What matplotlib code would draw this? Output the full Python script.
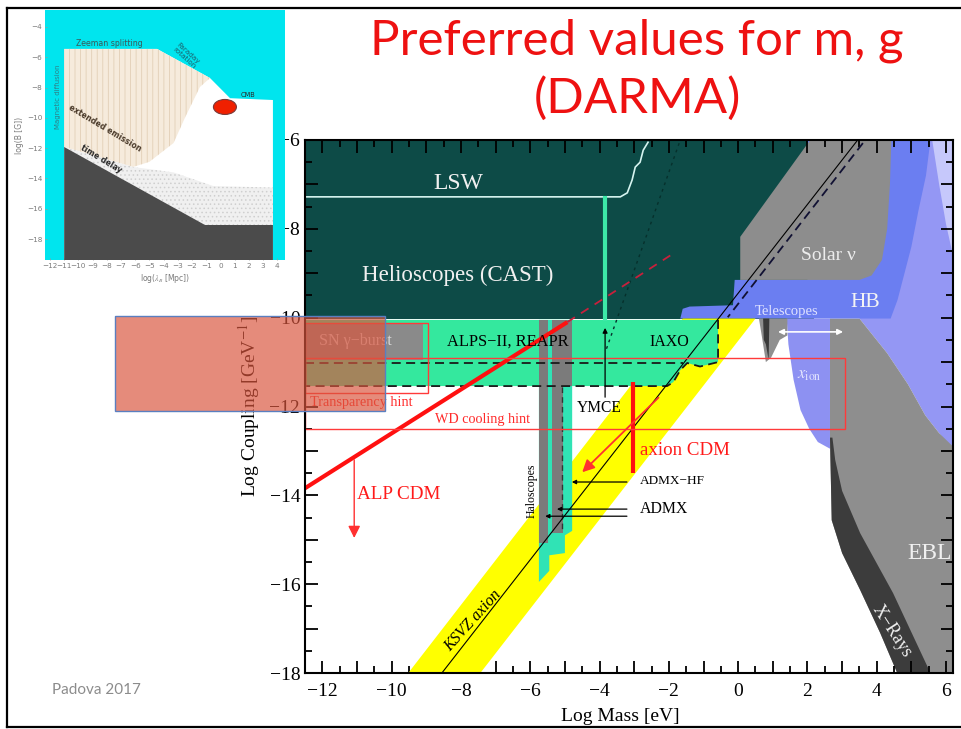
import matplotlib
matplotlib.use("Agg")
import matplotlib.pyplot as plt
from matplotlib.patches import Polygon, Rectangle, Ellipse
from matplotlib.lines import Line2D

plt.rcParams['mathtext.fontset'] = 'stix'
SERIF = ['Liberation Serif', 'DejaVu Serif']
SANS = ['Lato', 'DejaVu Sans']

# ---------------- main plot: log10(m / eV) vs log10(g / GeV^-1) ----------------
XLIM = (-12.5, 6.2)
YLIM = (-18.0, -6.0)
X_MAJOR = list(range(-12, 7))
X_LABELED = [-12, -10, -8, -6, -4, -2, 0, 2, 4, 6]
Y_MAJOR = list(range(-18, -5))
Y_LABELED = [-18, -16, -14, -12, -10, -8, -6]

# exclusion / sensitivity regions (vertices in data units)
helio_lsw = [(-12.5, -10.02), (2.2, -10.02), (2.2, -6.0), (-12.5, -6.0)]
alps_iaxo = [(-12.5, -10.05), (-0.58, -10.05), (-0.58, -11.0), (-1.1, -11.1), (-1.47, -11.02),
             (-1.67, -11.18), (-1.87, -11.45), (-2.05, -11.54), (-12.5, -11.54)]
iaxo_edge = [(-0.58, -10.05), (-0.58, -11.0), (-1.1, -11.1), (-1.47, -11.02), (-1.67, -11.18),
             (-1.87, -11.45), (-2.05, -11.54), (-12.5, -11.54)]
alps_edge_x = [-12.5, -1.6]
alps_edge_y = [-11.02, -11.02]
sn_burst = [(-12.5, -10.12), (-9.09, -10.12), (-9.09, -10.95), (-12.5, -10.95)]
ksvz_band = [(-9.52, -18.0), (-7.44, -18.0), (0.5, -10.02), (-1.6, -10.02)]
halo_green = [(-5.75, -10.05), (-4.79, -10.05), (-4.79, -14.8), (-5.0, -14.9), (-5.0, -15.3),
              (-5.45, -15.35), (-5.45, -15.7), (-5.75, -15.95)]
halo_gray_a = [(-5.75, -10.05), (-5.48, -10.05), (-5.48, -15.08), (-5.75, -15.08)]
halo_gray_b = [(-5.36, -10.05), (-4.8, -10.05), (-4.8, -11.54), (-5.05, -11.54),
               (-5.05, -14.85), (-5.36, -14.85)]
lavender_bg = [(3.4, -6.0), (6.2, -6.0), (6.2, -13.0), (5.8, -12.6), (5.4, -12.2),
               (4.9, -11.5), (4.3, -10.8), (3.5, -10.02)]
lavender_light = [(5.6, -6.0), (6.2, -6.0), (6.2, -8.6), (6.0, -7.9), (5.8, -7.0)]
hb_blue = [(-1.67, -10.02), (-1.6, -9.8), (-1.4, -9.75), (-0.15, -9.72), (-0.1, -9.15),
           (2.0, -9.15), (2.0, -6.0), (5.55, -6.0), (5.42, -6.8), (5.2, -7.6), (5.0, -8.4),
           (4.8, -9.0), (4.6, -9.6), (4.4, -10.02)]
solar_nu = [(0.06, -9.15), (0.06, -8.18), (2.08, -6.0), (4.42, -6.0), (4.38, -7.0),
            (4.3, -8.0), (4.15, -8.7), (3.85, -9.05), (3.5, -9.15)]
xion_blob = [(1.4, -10.02), (2.65, -10.02), (2.65, -12.95), (2.3, -12.8), (2.05, -12.5),
             (1.8, -12.08), (1.6, -11.4), (1.45, -10.6)]
telescopes = [(0.6, -10.02), (1.42, -10.02), (1.42, -10.4), (1.2, -10.5), (0.95, -10.9),
              (0.8, -11.0), (0.7, -10.5)]
telescopes_dark = [(0.72, -10.02), (0.9, -10.02), (0.88, -10.95), (0.8, -10.6), (0.74, -10.5)]
ebl = [(2.65, -10.02), (3.5, -10.02), (4.3, -10.8), (4.9, -11.5), (5.4, -12.2), (5.8, -12.6),
       (6.2, -12.9), (6.2, -18.0), (4.59, -18.0), (4.1, -17.1), (3.52, -16.13), (3.0, -15.3),
       (2.7, -14.56), (2.65, -12.7)]
xrays = [(2.65, -12.7), (2.7, -14.56), (3.0, -15.3), (3.52, -16.13), (4.1, -17.1), (4.59, -18.0),
         (5.55, -18.0), (4.47, -16.2), (3.52, -14.85), (3.0, -13.9), (2.8, -13.2), (2.72, -12.7)]

# lines
lsw_x = [-12.5, -3.4, -3.2, -3.06, -2.97, -2.83, -2.74, -2.6]
lsw_y = [-7.28, -7.28, -7.19, -6.9, -6.61, -6.5, -6.23, -6.05]
lsw_green_x = [-3.84, -3.84]
lsw_green_y = [-7.3, -10.02]
cast_dotted_x = [-3.8, -1.67]
cast_dotted_y = [-10.7, -6.0]
ksvz_x = [-8.55, 3.45]
ksvz_y = [-18.0, -6.0]
dfsz_dash_x = [3.6, -0.3]
dfsz_dash_y = [-6.07, -9.99]
alp_cdm_x = [-12.5, -4.93]
alp_cdm_y = [-13.84, -10.1]
alp_cdm_dash_x = [-4.93, -1.96]
alp_cdm_dash_y = [-10.1, -8.6]
axion_cdm_x = [-3.03, -3.03]
axion_cdm_y = [-11.45, -13.5]
halo_dash_x = [-5.08, -5.08]
halo_dash_y = [-11.56, -14.8]

# hint boxes: (x0, y0, x1, y1)
transparency_box = (-12.5, -11.7, -8.95, -10.12)
wd_box = (-12.5, -12.51, 3.08, -10.91)

# annotation arrows: (x_from, y_from, x_to, y_to)
ymce_arrow = (-3.84, -11.79, -3.84, -10.23)
alp_arrow = (-11.08, -13.2, -11.08, -14.96)
axion_arrow = (-2.3, -11.8, -4.5, -13.48)
admx_hf_arrow = (-3.21, -13.7, -4.8, -13.7)
admx_arrow_1 = (-3.21, -14.31, -5.23, -14.31)
admx_arrow_2 = (-3.21, -14.47, -5.57, -14.47)
tele_arrow = (3.03, -10.32, 1.15, -10.32)

# ---------------- inset: log10(B/G) vs log10(lambda_B / Mpc) ----------------
IN_XLIM = (-12.35, 4.55)
IN_YLIM = (-19.38, -2.88)
in_xticks = list(range(-12, 5))
in_yticks = [-4, -6, -8, -10, -12, -14, -16, -18]
in_white = [(-11, -5.45), (-4.46, -5.45), (-0.73, -7.37), (0.68, -8.7), (3.7, -8.82),
            (3.7, -19.4), (-11, -19.4)]
in_beige = [(-11, -5.45), (-4.46, -5.45), (-0.73, -7.37), (-1.44, -7.96), (-2.5, -10.0),
            (-3.3, -11.66), (-5.0, -12.9), (-6.15, -13.24), (-11, -11.92)]
in_dotted = [(-11, -11.92), (-6.15, -13.24), (-3.3, -13.6), (-0.5, -14.5), (3.7, -14.6),
             (3.7, -17.07), (-1.08, -17.07)]
in_dark = [(-11, -11.92), (-1.08, -17.07), (3.7, -17.07), (3.7, -19.4), (-11, -19.4)]
in_marker = (0.32, -9.28)

# ---------------- figure ----------------
fig = plt.figure(figsize=(9.62, 7.29), dpi=100)
fig.patch.set_facecolor('white')

ax = fig.add_axes([305 / 962, 1 - 673 / 729, 648 / 962, 533 / 729])
ax.set_xlim(*XLIM)
ax.set_ylim(*YLIM)


def poly(pts, color, z, **kw):
    ax.add_patch(Polygon(pts, closed=True, facecolor=color, edgecolor='none', zorder=z, **kw))


poly(helio_lsw, '#0d4b47', 1)
poly(lavender_bg, '#9497f4', 1)
poly(lavender_light, '#c6c8fb', 1.1)
poly(ebl, '#8e8e8e', 1.2)
poly(xrays, '#3c3c3c', 1.3)
poly(hb_blue, '#6b7ef1', 1.4)
poly(solar_nu, '#8d8d8d', 1.5)
poly(ksvz_band, '#ffff00', 1.6)
poly(xion_blob, '#8d91f2', 1.6)
poly(telescopes, '#8f8f8f', 1.7)
poly(telescopes_dark, '#3a3a3a', 1.8)
poly(alps_iaxo, '#34e89e', 2)
poly(sn_burst, '#8a8a8a', 2.1)
poly(halo_green, '#30e3b5', 2.2)
poly(halo_gray_a, '#7b7b7b', 2.3)
poly(halo_gray_b, '#7b7b7b', 2.3)

# LSW / CAST details
ax.plot(lsw_x, lsw_y, color='#d6f4f0', lw=1.2, zorder=3)
ax.plot(lsw_green_x, lsw_green_y, color='#3de8a8', lw=3, zorder=3)
ax.plot(cast_dotted_x, cast_dotted_y, color='#06302c', lw=1.0, ls=(0, (2, 3)), zorder=3)

# dashed outlines of ALPS-II / IAXO
ax.plot(alps_edge_x, alps_edge_y, color='#1a1a1a', lw=1.3, ls=(0, (5, 3)), zorder=3)
ex, ey = zip(*iaxo_edge)
ax.plot(ex, ey, color='#1a1a1a', lw=1.3, ls=(0, (5, 3)), zorder=3)
ax.plot(halo_dash_x, halo_dash_y, color='#333333', lw=1.0, ls=(0, (4, 3)), zorder=3)

# axion model lines
ax.plot(ksvz_x, ksvz_y, color='black', lw=0.8, zorder=3.1)
ax.plot(dfsz_dash_x, dfsz_dash_y, color='#111133', lw=1.3, ls=(0, (5, 3)), zorder=3.1)

# dark-matter lines
ax.plot(alp_cdm_x, alp_cdm_y, color='#ff1010', lw=3, zorder=4, solid_capstyle='butt')
ax.plot(alp_cdm_dash_x, alp_cdm_dash_y, color='#c8203c', lw=1.3, ls=(0, (5, 4)), zorder=4)
ax.plot(axion_cdm_x, axion_cdm_y, color='#ff1010', lw=3, zorder=4, solid_capstyle='butt')

# hint boxes
for (x0, y0, x1, y1) in (transparency_box, wd_box):
    ax.add_patch(Rectangle((x0, y0), x1 - x0, y1 - y0, facecolor='none',
                           edgecolor='#ff3a3a', lw=1.0, zorder=4.2))


def arrow(spec, color, lw, head=8, style='-|>', z=4.5):
    x0, y0, x1, y1 = spec
    ax.annotate('', xy=(x1, y1), xytext=(x0, y0),
                arrowprops=dict(arrowstyle=style, color=color, lw=lw,
                                mutation_scale=head, shrinkA=0, shrinkB=0),
                zorder=z)


arrow(ymce_arrow, 'black', 0.9, head=7)
arrow(alp_arrow, '#ff3030', 1.0, head=18)
arrow(axion_arrow, '#ff3030', 1.3, head=18)
arrow(admx_hf_arrow, 'black', 0.9, head=6)
arrow(admx_arrow_1, 'black', 0.9, head=6)
arrow(admx_arrow_2, 'black', 0.9, head=6)
arrow(tele_arrow, 'white', 1.2, head=8, style='<|-|>')


# region labels
def label(x, y, s, size, color='black', **kw):
    ax.text(x, y, s, fontsize=size, color=color, family=SERIF, ha='center', va='center',
            zorder=6, **kw)


label(-8.08, -6.97, 'LSW', 17, '#f0f0f0')
label(-8.08, -9.04, 'Helioscopes (CAST)', 16.5, '#f0f0f0')
label(-6.66, -10.55, 'ALPS\u2212II, REAPR', 11.8)
label(-11.05, -10.53, 'SN \u03b3\u2212burst', 11.5, '#d8d8d8')
label(-1.99, -10.55, 'IAXO', 11.5)
label(-4.0, -12.04, 'YMCE', 11.2)
label(2.6, -8.61, 'Solar \u03bd', 14, '#ececec')
label(3.66, -9.65, 'HB', 15.5, '#f4f4f4')
label(1.41, -9.85, 'Telescopes', 10.5, '#dfe2ff')
label(2.05, -11.3, r'$x_{\rm ion}$', 12, '#e4e6ff')
label(5.51, -15.3, 'EBL', 17, '#f0f0f0')
label(4.44, -17.05, 'X\u2212Rays', 13, '#f0f0f0', rotation=-57)
label(-5.97, -13.9, 'Haloscopes', 8.5, rotation=90)
label(-7.64, -16.83, 'KSVZ axion', 11.5, rotation=48, style='italic')
ax.text(-2.83, -12.98, 'axion CDM', fontsize=13.6, color='#ff1a1a', family=SERIF,
        ha='left', va='center', zorder=6)
ax.text(-10.99, -13.97, 'ALP CDM', fontsize=13.8, color='#ff1a1a', family=SERIF,
        ha='left', va='center', zorder=6)
ax.text(-2.83, -13.68, 'ADMX\u2212HF', fontsize=9.5, color='black', family=SERIF,
        ha='left', va='center', zorder=6)
ax.text(-2.83, -14.31, 'ADMX', fontsize=11.4, color='black', family=SERIF,
        ha='left', va='center', zorder=6)
ax.text(-12.35, -11.92, 'Transparency hint', fontsize=10.3, color='#ff2a2a', family=SERIF,
        ha='left', va='center', zorder=6)
ax.text(-8.74, -12.3, 'WD cooling hint', fontsize=10.2, color='#ff2a2a', family=SERIF,
        ha='left', va='center', zorder=6)

# axes styling
ax.set_xticks(X_MAJOR)
ax.set_xticks([v + 0.5 for v in X_MAJOR[:-1]] + [-12.5], minor=True)
ax.set_yticks(Y_MAJOR)
ax.set_yticks([v + 0.5 for v in Y_MAJOR[:-1]], minor=True)
ax.set_xticklabels([('\u2212%d' % -v if v < 0 else '%d' % v) if v in X_LABELED else ''
                    for v in X_MAJOR])
ax.set_yticklabels([('\u2212%d' % -v) if v in Y_LABELED else '' for v in Y_MAJOR])
for t in ax.get_xticklabels() + ax.get_yticklabels():
    t.set_family(SERIF)
    t.set_fontsize(14)
ax.tick_params(which='both', direction='in', top=True, right=True, width=1.3, colors='black',
               zorder=7)
ax.tick_params(which='major', length=9)
ax.tick_params(which='minor', length=5)
ax.tick_params(axis='x', which='major', pad=7)
ax.tick_params(axis='y', which='major', pad=3.5)
for sp in ax.spines.values():
    sp.set_linewidth(1.5)
    sp.set_zorder(8)
ax.set_xlabel('Log Mass [eV]', family=SERIF, fontsize=14)
ax.set_ylabel('Log Coupling [GeV$^{-1}$]', family=SERIF, fontsize=14)
ax.xaxis.set_label_coords(0.486, -0.066)
ax.yaxis.set_label_coords(-0.066, 0.5)

# ---------------- inset ----------------
axi = fig.add_axes([45 / 962, 1 - 260 / 729, 240 / 962, 250 / 729])
axi.set_facecolor('#00e5ee')
axi.set_xlim(*IN_XLIM)
axi.set_ylim(*IN_YLIM)
plt.rcParams['hatch.linewidth'] = 0.6
axi.add_patch(Polygon(in_white, closed=True, facecolor='white', edgecolor='none', zorder=1))
axi.add_patch(Polygon(in_beige, closed=True, facecolor='#f6ebdc', edgecolor='#e2cfb6',
                      hatch='|||', lw=0, zorder=2))
axi.add_patch(Polygon(in_dotted, closed=True, facecolor='#f0f0f0', edgecolor='#cfcfcf',
                      hatch='....', lw=0, zorder=2))
axi.add_patch(Polygon(in_dark, closed=True, facecolor='#4b4b4b', edgecolor='none', zorder=3))
axi.add_patch(Ellipse(in_marker, 1.62, 0.99, facecolor='#f02000', edgecolor='#7a3a3a',
                      lw=0.8, zorder=5))
for sp in axi.spines.values():
    sp.set_visible(False)
axi.set_xticks(in_xticks)
axi.set_yticks(in_yticks)
axi.set_xticklabels([('\u2212%d' % -v) if v < 0 else '%d' % v for v in in_xticks])
axi.set_yticklabels(['\u2212%d' % -v for v in in_yticks])
axi.tick_params(direction='in', length=1.5, width=0.5, colors='#9a9a9a', labelsize=5.2,
                pad=2, labelcolor='#7a7a7a')
axi.set_xlabel(r'log($\lambda_B$ [Mpc])', fontsize=5.5, color='#7a7a7a', labelpad=2)
axi.set_ylabel('log(B [G])', fontsize=5.5, color='#7a7a7a', labelpad=2)
itxt = dict(ha='center', va='center', zorder=6)
axi.text(-7.85, -5.06, 'Zeeman splitting', fontsize=5.6, color='#3a5a5a', **itxt)
axi.text(-2.4, -5.9, 'Faraday\nrotation', fontsize=5.2, color='#1d5e6a', rotation=-42,
         linespacing=0.9, **itxt)
axi.text(-11.45, -8.6, 'Magnetic diffusion', fontsize=5.0, color='#2f7f86', rotation=90, **itxt)
axi.text(1.95, -8.5, 'CMB', fontsize=4.8, color='#2a2a2a', **itxt)
axi.text(-8.1, -10.7, 'extended emission', fontsize=5.6, color='#4a3a2a', rotation=-31,
         weight='bold', **itxt)
axi.text(-8.4, -12.7, 'time delay', fontsize=5.6, color='#2a2a2a', rotation=-31,
         weight='bold', **itxt)

# ---------------- slide overlays ----------------
fig.text(637 / 962, 1 - 41 / 729, 'Preferred values for m, g', fontsize=35.5, color='#ee1111',
         family=SANS, ha='center', va='center')
fig.text(637 / 962, 1 - 98 / 729, '(DARMA)', fontsize=35.5, color='#ee1111',
         family=SANS, ha='center', va='center')
fig.text(52 / 962, 1 - 690 / 729, 'Padova 2017', fontsize=11, color='#8c8c8c',
         family=SANS, ha='left', va='center')

fig.patches.append(Rectangle((115 / 962, 1 - 411 / 729), 270 / 962, 95 / 729,
                             transform=fig.transFigure, facecolor='#d9553d', alpha=0.68,
                             edgecolor='none', zorder=20))
fig.patches.append(Rectangle((115 / 962, 1 - 411 / 729), 270 / 962, 95 / 729,
                             transform=fig.transFigure, facecolor='none',
                             edgecolor='#5a7fc0', lw=1.0, zorder=21))

for xs, ys in (([7 / 962, 7 / 962], [1 - 8 / 729, 1 - 727 / 729]),
               ([7 / 962, 1.0], [1 - 8 / 729, 1 - 8 / 729]),
               ([7 / 962, 1.0], [1 - 727 / 729, 1 - 727 / 729])):
    fig.add_artist(Line2D(xs, ys, transform=fig.transFigure, color='black', lw=1.6, zorder=30))

fig.savefig('out.png', dpi=100)
